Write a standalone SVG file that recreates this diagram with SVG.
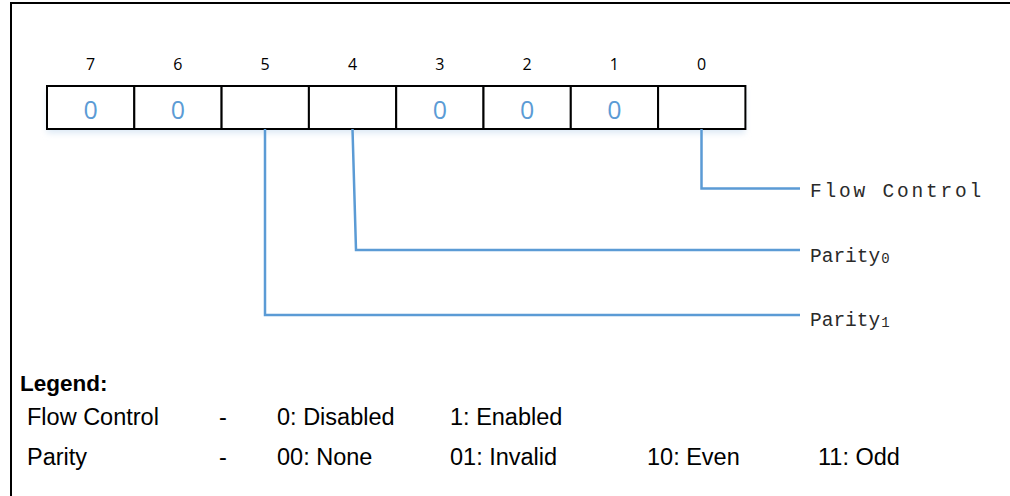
<svg xmlns="http://www.w3.org/2000/svg" width="1010" height="496" viewBox="0 0 1010 496">
<style>
.frame{fill:#fff;stroke:#000;stroke-width:2}
.cell{fill:#fff;stroke:#000;stroke-width:2}
.bitnum{font-family:"Open Sans","Liberation Sans",sans-serif;font-size:16px;fill:#000;text-anchor:middle}
.val{font-family:"Open Sans","Liberation Sans",sans-serif;font-size:25px;fill:#5B9BD5;text-anchor:middle}
.conn{fill:none;stroke:#5B9BD5;stroke-width:2.5}
.lbl{font-family:"Liberation Mono","Courier New",monospace;font-size:19.5px;fill:#2a2a2a}
.sub{font-size:14px}
.leg{font-family:"Liberation Sans",Arial,sans-serif;font-size:23.5px;fill:#000}
.legb{font-family:"Liberation Sans",Arial,sans-serif;font-size:22.5px;font-weight:bold;fill:#000}
</style>
<defs>
<filter id="glow" x="-10%" y="-20%" width="120%" height="160%">
<feGaussianBlur stdDeviation="3"/>
</filter>
</defs>
<rect class="frame" x="11" y="3" width="1010" height="500"/>
<g id="register">
<rect x="47" y="90" width="698" height="43" fill="#dbe8f5" filter="url(#glow)"/>
<g id="bit7"><rect class="cell" x="47" y="86" width="87.3" height="43"/><text class="bitnum" x="90.6" y="69.5">7</text><text class="val" x="90.6" y="118.5">0</text></g>
<g id="bit6"><rect class="cell" x="134.3" y="86" width="87.3" height="43"/><text class="bitnum" x="177.9" y="69.5">6</text><text class="val" x="177.9" y="118.5">0</text></g>
<g id="bit5"><rect class="cell" x="221.6" y="86" width="87.3" height="43"/><text class="bitnum" x="265.2" y="69.5">5</text></g>
<g id="bit4"><rect class="cell" x="308.9" y="86" width="87.3" height="43"/><text class="bitnum" x="352.5" y="69.5">4</text></g>
<g id="bit3"><rect class="cell" x="396.2" y="86" width="87.3" height="43"/><text class="bitnum" x="439.8" y="69.5">3</text><text class="val" x="439.8" y="118.5">0</text></g>
<g id="bit2"><rect class="cell" x="483.5" y="86" width="87.3" height="43"/><text class="bitnum" x="527.1" y="69.5">2</text><text class="val" x="527.1" y="118.5">0</text></g>
<g id="bit1"><rect class="cell" x="570.8" y="86" width="87.3" height="43"/><text class="bitnum" x="614.4" y="69.5">1</text><text class="val" x="614.4" y="118.5">0</text></g>
<g id="bit0"><rect class="cell" x="658.1" y="86" width="87.3" height="43"/><text class="bitnum" x="701.7" y="69.5">0</text></g>
</g>
<g id="connectors">
<polyline class="conn" points="701.5,129 701.5,188.5 800,188.5"/>
<polyline class="conn" points="352.5,129 356,250 800,250"/>
<polyline class="conn" points="265,129 265,315 800,315"/>
</g>
<g id="label-flow"><text class="lbl" x="810" y="196.5" letter-spacing="2.8">Flow Control</text></g>
<g id="label-parity0"><text class="lbl" x="810" y="261.5">Parity<tspan class="sub" dx="1" dy="1.5">0</tspan></text></g>
<g id="label-parity1"><text class="lbl" x="810" y="325.5">Parity<tspan class="sub" dx="1" dy="1.5">1</tspan></text></g>
<g id="legend">
<text class="legb" x="20" y="391">Legend:</text>
<text class="leg" x="27" y="425">Flow Control</text>
<text class="leg" x="219" y="425">-</text>
<text class="leg" x="277" y="425">0: Disabled</text>
<text class="leg" x="450" y="425">1: Enabled</text>
<text class="leg" x="27" y="465">Parity</text>
<text class="leg" x="219" y="465">-</text>
<text class="leg" x="277" y="465">00: None</text>
<text class="leg" x="450" y="465">01: Invalid</text>
<text class="leg" x="647" y="465">10: Even</text>
<text class="leg" x="818" y="465">11: Odd</text>
</g>
</svg>
